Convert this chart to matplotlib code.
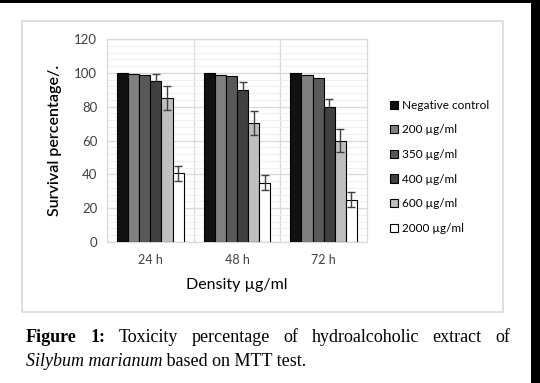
import matplotlib
matplotlib.use('Agg')
import matplotlib.pyplot as plt
import numpy as np
from matplotlib.patches import Rectangle

# Datos
groups = ['24 h', '48 h', '72 h']
series = ['Negative control', '200 \u00b5g/ml', '350 \u00b5g/ml', '400 \u00b5g/ml', '600 \u00b5g/ml', '2000 \u00b5g/ml']
values = [
    [100, 100, 100],
    [99.5, 99, 98.5],
    [99, 98, 97],
    [95, 90, 80],
    [85, 70.5, 60],
    [40.5, 35, 25],
]
errors = [
    None,
    None,
    None,
    [4.5, 4.5, 4.5],
    [7, 7, 7],
    [4.5, 4.5, 4.5],
]
colors = ['#111111', '#808080', '#595959', '#404040', '#bfbfbf', '#ffffff']

W, H = 540, 383
fig = plt.figure(figsize=(W / 100, H / 100), dpi=100)

# bordes negros de la captura
fig.add_artist(Rectangle((0, 1 - 3 / H), 1, 3 / H, transform=fig.transFigure,
                         color='black', lw=0))
fig.add_artist(Rectangle((531 / W, 0), 9 / W, 1, transform=fig.transFigure,
                         color='black', lw=0))
# marco gris del grafico
fig.add_artist(Rectangle((22 / W, 1 - 312 / H), (503 - 22) / W, (312 - 21) / H,
                         transform=fig.transFigure, fill=False,
                         edgecolor='#d9d9d9', lw=1.2))

ax = fig.add_axes([107 / W, 1 - 242 / H, (367 - 107) / W, (242 - 39) / H])

x = np.arange(len(groups))
bw = 0.128
for i, name in enumerate(series):
    pos = x - 2.5 * bw + i * bw
    ax.bar(pos, values[i], bw, color=colors[i], edgecolor='black', lw=0.8,
           label=name, zorder=3)
    if errors[i] is not None:
        ax.errorbar(pos, values[i], yerr=errors[i], fmt='none', ecolor='#404040',
                    elinewidth=1, capsize=3, capthick=1, zorder=4)

ax.set_xlim(-0.5, 2.5)
ax.set_ylim(0, 120)
ax.set_yticks(np.arange(0, 121, 20))
ax.set_yticks(np.arange(0, 121, 4), minor=True)
ax.set_xticks(x)
ax.set_xticklabels(groups, family='Lato', fontsize=9, color='#404040')
for lab in ax.get_yticklabels():
    lab.set_family('Lato')
    lab.set_fontsize(9.5)
    lab.set_color('#404040')
ax.tick_params(axis='both', which='both', length=0)
ax.tick_params(axis='y', pad=7)
ax.tick_params(axis='x', pad=9)
ax.grid(axis='y', which='major', color='#d9d9d9', lw=0.9, zorder=0)
ax.grid(axis='y', which='minor', color='#efefef', lw=0.7, zorder=0)
for b in [0.5, 1.5]:
    ax.axvline(b, color='#d9d9d9', lw=0.9, zorder=0)
for s in ax.spines.values():
    s.set_color('#d9d9d9')
    s.set_linewidth(0.9)

ax.set_ylabel('Survival percentage/.', family='Lato', fontsize=11.5,
              weight='semibold', labelpad=9)
ax.set_xlabel('Density \u00b5g/ml', family='Lato', fontsize=11.5, labelpad=8)

leg = ax.legend(loc='upper left', bbox_to_anchor=(384 / W, 1 - 94 / H),
                bbox_transform=fig.transFigure, frameon=False,
                prop={'family': 'Lato', 'size': 8.5},
                handlelength=0.7, handleheight=0.7, handletextpad=0.3,
                labelspacing=1.15, borderpad=0)

# pie de figura justificado
words = [('Figure', 'bold'), ('1:', 'bold'), ('Toxicity', 'normal'),
         ('percentage', 'normal'), ('of', 'normal'), ('hydroalcoholic', 'normal'),
         ('extract', 'normal'), ('of', 'normal')]
fig.canvas.draw()
r = fig.canvas.get_renderer()
texts = []
for w, wt in words:
    t = fig.text(0, 1 - 338 / H, w, family='Liberation Serif', fontsize=13,
                 weight=wt, va='center', ha='left')
    texts.append(t)
widths = [t.get_window_extent(r).width for t in texts]
x0, x1 = 26, 510
gap = (x1 - x0 - sum(widths)) / (len(words) - 1)
cur = x0
for t, wd in zip(texts, widths):
    t.set_x(cur / W)
    cur += wd + gap

it = fig.text(26 / W, 1 - 362 / H, 'Silybum marianum', family='Liberation Serif',
              fontsize=13, style='italic', va='center', ha='left')
t2 = fig.text(0, 1 - 362 / H, ' based on MTT test.', family='Liberation Serif',
              fontsize=13, va='center', ha='left')
t2.set_x((26 + it.get_window_extent(r).width) / W)

fig.savefig('out.png', dpi=100)
